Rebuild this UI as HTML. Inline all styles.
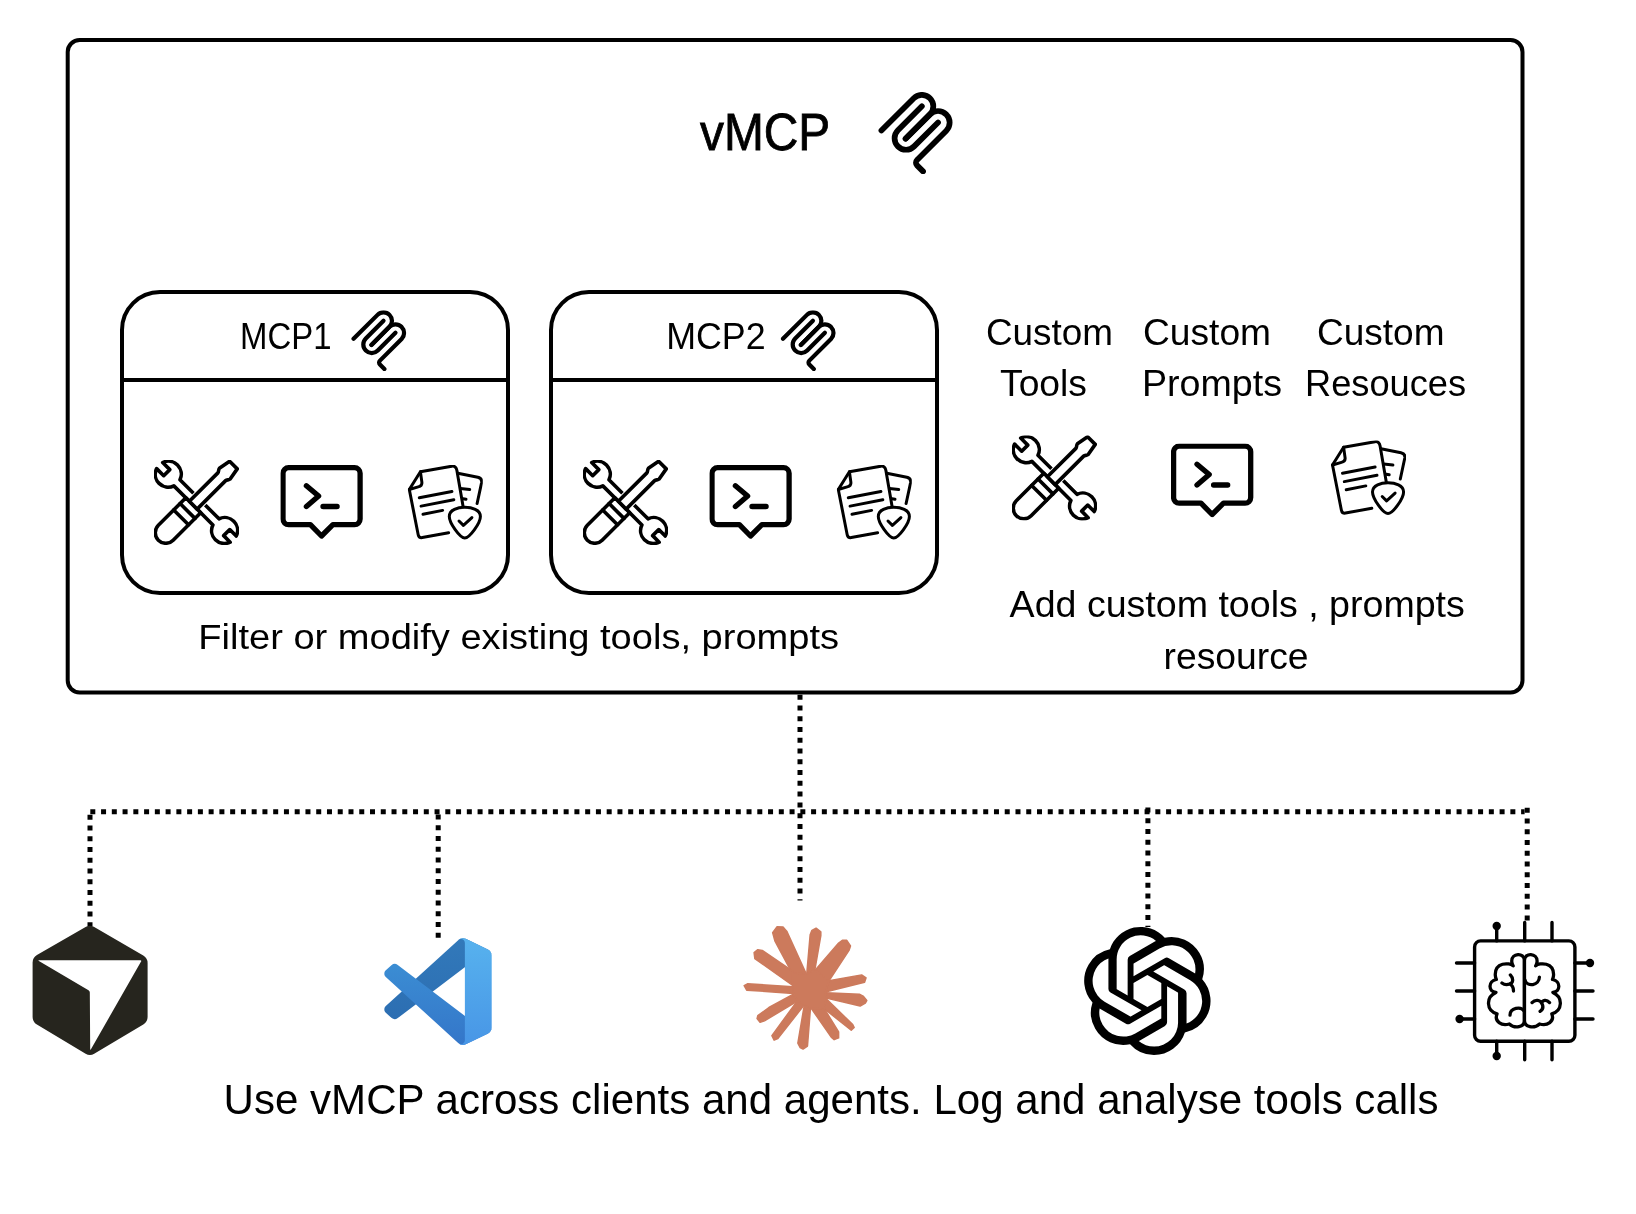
<!DOCTYPE html>
<html><head><meta charset="utf-8">
<style>
html,body{margin:0;padding:0;background:#fff;width:1636px;height:1214px;overflow:hidden}
svg{display:block;will-change:transform}
text{font-family:"Liberation Sans",sans-serif;fill:#000}
</style></head>
<body>
<svg width="1636" height="1214" viewBox="0 0 1636 1214">
<defs>
  <symbol id="mcp" viewBox="19 17 155 172">
    <g fill="none" stroke="#000" stroke-width="12" stroke-linecap="round">
      <path d="M25 97.8528L92.8823 29.9706C102.255 20.598 117.451 20.598 126.823 29.9706V29.9706C136.196 39.3431 136.196 54.5391 126.823 63.9117L75.5581 115.177"/>
      <path d="M76.2653 114.47L126.823 63.9117C136.196 54.5391 151.392 54.5391 160.765 63.9117L161.118 64.2652C170.491 73.6378 170.491 88.8338 161.118 98.2063L99.7248 159.6C96.6006 162.724 96.6006 167.789 99.7248 170.913L112.331 183.52"/>
      <path d="M109.853 46.9411L59.6482 97.1457C50.2757 106.518 50.2757 121.714 59.6482 131.087V131.087C69.0208 140.459 84.2168 140.459 93.5894 131.087L143.794 80.8822"/>
    </g>
  </symbol>
  <symbol id="tools" viewBox="0 0 85 85">
    <g transform="translate(42.3 42.2) rotate(45)" stroke="#000" stroke-width="3.6" stroke-linejoin="round" stroke-linecap="round" fill="#fff">
      <path d="M-27.4 -4.3 L27.8 -4.3 A12.9 12.9 0 0 1 52.2 -4.3 L43 -4.3 L43 4.3 L52.2 4.3 A12.9 12.9 0 0 1 27.8 4.3 L-27.4 4.3 A12.9 12.9 0 0 1 -51.8 4.3 L-41.8 4.3 L-41.8 -4.3 L-51.8 -4.3 A12.9 12.9 0 0 1 -27.4 -4.3 Z"/>
      <path d="M-10.5 4.3 L10.5 4.3 L10.5 43.2 A10.5 10.5 0 0 1 -10.5 43.2 Z"/>
      <path fill="none" d="M-10.5 12.4 L10.5 12.4 M-10.5 21.5 L10.5 21.5"/>
      <path fill="none" stroke="#fff" stroke-width="5.8" stroke-linecap="butt" d="M-5.5 -0.5 L-5.5 -36 C-5.5 -37.6 -7.6 -38.6 -7.6 -40.3 L-5.4 -52.5 L5.4 -52.5 L7.6 -40.3 C7.6 -38.6 5.5 -37.6 5.5 -36 L5.5 -0.5"/>
      <path d="M-5.5 4.3 L-5.5 -36 C-5.5 -37.6 -7.6 -38.6 -7.6 -40.3 L-5.4 -52.5 L5.4 -52.5 L7.6 -40.3 C7.6 -38.6 5.5 -37.6 5.5 -36 L5.5 4.3 Z"/>
    </g>
  </symbol>
  <symbol id="prompt" viewBox="0 0 83 74">
    <g fill="none" stroke="#000" stroke-width="5.3" stroke-linecap="round" stroke-linejoin="round">
      <path d="M8.2 2.7 H74.1 A5.6 5.6 0 0 1 79.7 8.3 V54.1 A5.6 5.6 0 0 1 74.1 59.7 H52.5 L41.1 71 L30 59.7 H8.2 A5.6 5.6 0 0 1 2.6 54.1 V8.3 A5.6 5.6 0 0 1 8.2 2.7 Z"/>
      <path d="M26 20.8 L38.2 31.1 L26 41.5 M42.6 41.5 H56.7"/>
    </g>
  </symbol>
  <symbol id="docs" viewBox="0 0 75 75">
    <g fill="none" stroke="#000" stroke-width="3" stroke-linecap="round" stroke-linejoin="round">
      <path d="M50 8.2 L70 12.2 Q74.5 13.2 73.8 17.5 L69.3 38.5"/>
      <path d="M52.6 23.4 L61.9 24.5 M55.2 33.7 L58.2 34.3"/>
      <path fill="#fff" stroke="none" d="M12.6 6.7 L44.5 1.1 Q48.3 0.6 49 5 L55.2 41.1 L40.8 67.8 L14.5 72.6 Q11 73.2 10.4 69.7 L1.5 24.5 Z"/>
      <path d="M40.8 67.8 L14.5 72.6 Q11 73.2 10.4 69.7 L1.5 24.5 L12.6 6.7 L44 1.2 C47 0.7 48.6 2.5 49.1 5.5 L55.2 41.1"/>
      <path d="M12.6 6.7 L14.1 17.4 Q14.5 21 10.4 21.9 L1.5 24.5"/>
      <path d="M11.5 32.8 L44.1 26.5 M13.3 41.1 L46 34.8 M15.2 49.3 L34.8 45.4"/>
      <path fill="#fff" d="M41.5 51.5 C41.5 44.5 50 42.3 57 42.3 C64 42.3 72.6 44.5 72.6 51.5 C72.6 58 62 73 57 73 C52 73 41.5 58 41.5 51.5 Z"/>
      <path d="M51.2 56 L55.6 60.4 L64.1 52.6"/>
    </g>
  </symbol>
  <linearGradient id="vsA" x1="0" y1="0" x2="0" y2="1"><stop offset="0" stop-color="#3279ba"/><stop offset="1" stop-color="#2c6eb2"/></linearGradient>
  <linearGradient id="vsB" x1="0" y1="0" x2="0" y2="1"><stop offset="0" stop-color="#3b8dd3"/><stop offset="1" stop-color="#3476c9"/></linearGradient>
  <linearGradient id="vsC" x1="0" y1="0" x2="0" y2="1"><stop offset="0" stop-color="#57b2ee"/><stop offset="1" stop-color="#4896e6"/></linearGradient>
</defs>

<!-- outer box -->
<rect x="67.7" y="40" width="1454.8" height="652.5" rx="12" ry="12" fill="none" stroke="#000" stroke-width="4"/>

<!-- title -->
<text x="700" y="149.8" font-size="50.9" stroke="#000" stroke-width="0.8" textLength="130.3" lengthAdjust="spacingAndGlyphs">vMCP</text>
<use href="#mcp" x="878" y="92" width="75" height="82"/>

<!-- MCP1 box -->
<rect x="122" y="292" width="386" height="301" rx="38" ry="38" fill="none" stroke="#000" stroke-width="4"/>
<line x1="122" y1="380" x2="508" y2="380" stroke="#000" stroke-width="4"/>
<text x="240" y="349" font-size="36.8" textLength="91.5" lengthAdjust="spacingAndGlyphs">MCP1</text>
<use href="#mcp" x="351" y="310.3" width="55.6" height="60.7"/>
<use href="#tools" x="154" y="460" width="85" height="85"/>
<use href="#prompt" x="280.4" y="465" width="83" height="74"/>
<use href="#docs" x="407.8" y="465" width="75" height="75"/>

<!-- MCP2 box -->
<rect x="551" y="292" width="386" height="301" rx="38" ry="38" fill="none" stroke="#000" stroke-width="4"/>
<line x1="551" y1="380" x2="937" y2="380" stroke="#000" stroke-width="4"/>
<text x="666.2" y="349" font-size="36.8" textLength="99.4" lengthAdjust="spacingAndGlyphs">MCP2</text>
<use href="#mcp" x="780.4" y="310.3" width="55.6" height="60.7"/>
<use href="#tools" x="583" y="460" width="85" height="85"/>
<use href="#prompt" x="709.4" y="465" width="83" height="74"/>
<use href="#docs" x="836.8" y="465" width="75" height="75"/>

<!-- custom -->
<text x="986" y="344.5" font-size="36" textLength="127" lengthAdjust="spacingAndGlyphs">Custom</text>
<text x="1000" y="396" font-size="36" textLength="87" lengthAdjust="spacingAndGlyphs">Tools</text>
<text x="1143" y="344.5" font-size="36" textLength="128" lengthAdjust="spacingAndGlyphs">Custom</text>
<text x="1142" y="396" font-size="36" textLength="140" lengthAdjust="spacingAndGlyphs">Prompts</text>
<text x="1317" y="344.5" font-size="36" textLength="127.5" lengthAdjust="spacingAndGlyphs">Custom</text>
<text x="1305" y="396" font-size="36" textLength="161.1" lengthAdjust="spacingAndGlyphs">Resouces</text>
<use href="#tools" x="1012" y="435.5" width="85" height="85"/>
<use href="#prompt" x="1171" y="443.5" width="83" height="74"/>
<use href="#docs" x="1331" y="440.5" width="75" height="75"/>

<text x="198.3" y="648.8" font-size="35.5" textLength="640.7" lengthAdjust="spacingAndGlyphs">Filter or modify existing tools, prompts</text>
<text x="1009.6" y="616.8" font-size="36" textLength="455.2" lengthAdjust="spacingAndGlyphs">Add custom tools , prompts</text>
<text x="1163.6" y="668.6" font-size="36" textLength="145" lengthAdjust="spacingAndGlyphs">resource</text>

<!-- dotted connectors -->
<g stroke="#000" stroke-width="5" stroke-dasharray="5 5.758" fill="none">
  <line x1="800" y1="694.8" x2="800" y2="900.5"/>
  <line x1="90.3" y1="811.8" x2="1524.6" y2="811.8"/>
  <line x1="90" y1="814.7" x2="90" y2="926"/>
  <line x1="438.2" y1="814.4" x2="438.2" y2="938"/>
  <line x1="1147.9" y1="807.5" x2="1147.9" y2="927"/>
  <line x1="1527.2" y1="807.8" x2="1527.2" y2="920.5"/>
</g>


<!-- cursor cube -->
<g>
  <path d="M85.57 927.10 Q89.90 924.60 94.23 927.10 L143.27 955.50 Q147.60 958.00 147.60 963.00 L147.60 1017.00 Q147.60 1022.00 143.30 1024.55 L94.20 1053.65 Q89.90 1056.20 85.61 1053.64 L36.89 1024.56 Q32.60 1022.00 32.60 1017.00 L32.60 962.60 Q32.60 957.60 36.93 955.10 Z" fill="#26251e"/>
  <path d="M38.89 961.06 Q37.60 960.30 39.10 960.30 L140.30 960.30 Q141.80 960.30 141.06 961.60 L90.94 1049.20 Q90.20 1050.50 90.19 1049.00 L89.81 992.50 Q89.80 991.00 88.51 990.24 Z" fill="#fff"/>
</g>
<!-- vscode -->
<g transform="translate(384.4 937.9) scale(1.073)">
  <path d="M96.4614 10.7962L75.8569 0.875542C73.4719 -0.272773 70.6217 0.211611 68.75 2.08333L1.29858 63.5832C-0.515693 65.2373 -0.513607 68.0937 1.30308 69.7452L6.81272 74.754C8.29793 76.1042 10.5347 76.2036 12.1338 74.9905L93.3609 13.3699C96.086 11.3026 100 13.2462 100 16.6667V16.4275C100 14.0265 98.6246 11.8378 96.4614 10.7962Z" fill="url(#vsA)"/>
  <path d="M96.4614 89.2038L75.8569 99.1245C73.4719 100.273 70.6217 99.7884 68.75 97.9167L1.29858 36.4169C-0.515693 34.7627 -0.513607 31.9063 1.30308 30.2548L6.81272 25.246C8.29793 23.8958 10.5347 23.7964 12.1338 25.0095L93.3609 86.6301C96.086 88.6974 100 86.7538 100 83.3334V83.5726C100 85.9735 98.6246 88.1622 96.4614 89.2038Z" fill="url(#vsB)"/>
  <path d="M75.8578 99.1263C73.4721 100.274 70.6219 99.7885 68.75 97.9166C71.0564 100.223 75 98.5895 75 95.3278V4.67213C75 1.41039 71.0564 -0.223106 68.75 2.08329C70.6219 0.211402 73.4721 -0.273666 75.8578 0.873633L96.4587 10.7807C98.6234 11.8217 100 14.0112 100 16.4132V83.5871C100 85.9891 98.6234 88.1786 96.4586 89.2196L75.8578 99.1263Z" fill="url(#vsC)"/>
</g>
<!-- claude -->
<g transform="translate(720 900) scale(0.14828)" fill="#cc7a5c" stroke="#cc7a5c" stroke-width="10" stroke-linejoin="round"><polygon points="490,500 370,275 355,220 385,180 425,182 450,210 580,495"/><polygon points="585,500 608,235 620,205 648,190 680,215 680,240 640,470"/><polygon points="640,475 800,290 825,272 855,272 880,310 870,340 735,545"/><polygon points="735,545 955,505 985,525 975,555 710,620"/><polygon points="715,625 940,635 965,648 990,678 980,695 945,715 710,660"/><polygon points="715,665 895,840 905,860 885,878 705,735"/><polygon points="615,730 750,925 770,942 800,930 800,890 705,735"/><polygon points="570,700 525,965 540,995 560,1005 590,985 610,730"/><polygon points="525,675 350,915 365,945 390,935 570,705"/><polygon points="495,635 330,725 255,780 250,800 270,825 300,815 525,680"/><polygon points="490,585 185,565 163,578 180,608 495,630"/><polygon points="490,480 285,340 255,335 230,355 235,395 495,580"/><polygon points="490,490 585,500 640,470 735,545 710,620 715,665 705,735 610,730 570,705 525,680 495,630 490,585"/></g>
<!-- openai -->
<g transform="translate(1083.3 926.9) scale(5.3375)"><path d="M22.2819 9.8211a5.9847 5.9847 0 0 0-.5157-4.9108 6.0462 6.0462 0 0 0-6.5098-2.9A6.0651 6.0651 0 0 0 4.9807 4.1818a5.9847 5.9847 0 0 0-3.9977 2.9 6.0462 6.0462 0 0 0 .7427 7.0966 5.98 5.98 0 0 0 .511 4.9107 6.051 6.051 0 0 0 6.5146 2.9001A5.9847 5.9847 0 0 0 13.2599 24a6.0557 6.0557 0 0 0 5.7718-4.2058 5.9894 5.9894 0 0 0 3.9977-2.9001 6.0557 6.0557 0 0 0-.7475-7.0729zm-9.022 12.6081a4.4755 4.4755 0 0 1-2.8764-1.0408l.1419-.0804 4.7783-2.7582a.7948.7948 0 0 0 .3927-.6813v-6.7369l2.02 1.1686a.071.071 0 0 1 .038.052v5.5826a4.504 4.504 0 0 1-4.4945 4.4944zm-9.6607-4.1254a4.4708 4.4708 0 0 1-.5346-3.0137l.142.0852 4.783 2.7582a.7712.7712 0 0 0 .7806 0l5.8428-3.3685v2.3324a.0804.0804 0 0 1-.0332.0615L9.74 19.9502a4.4992 4.4992 0 0 1-6.1408-1.6464zM2.3408 7.8956a4.485 4.485 0 0 1 2.3655-1.9728V11.6a.7664.7664 0 0 0 .3879.6765l5.8144 3.3543-2.0201 1.1685a.0757.0757 0 0 1-.071 0l-4.8303-2.7865A4.504 4.504 0 0 1 2.3408 7.872zm16.5963 3.8558L13.1038 8.364 15.1192 7.2a.0757.0757 0 0 1 .071 0l4.8303 2.7913a4.4944 4.4944 0 0 1-.6765 8.1042v-5.6772a.79.79 0 0 0-.407-.667zm2.0107-3.0231l-.142-.0852-4.7735-2.7818a.7759.7759 0 0 0-.7854 0L9.409 9.2297V6.8974a.0662.0662 0 0 1 .0284-.0615l4.8303-2.7866a4.4992 4.4992 0 0 1 6.6802 4.66zM8.3065 12.863l-2.02-1.1638a.0804.0804 0 0 1-.038-.0567V6.0742a4.4992 4.4992 0 0 1 7.3757-3.4537l-.142.0805L8.704 5.459a.7948.7948 0 0 0-.3927.6813zm1.0976-2.3654l2.602-1.4998 2.6069 1.4998v2.9994l-2.5974 1.4997-2.6067-1.4997Z" fill="#000"/></g>
<!-- brain chip -->
<g fill="none" stroke="#000" stroke-width="3.4" stroke-linecap="round" stroke-linejoin="round">
  <rect x="1474.6" y="940.9" width="100.3" height="100.3" rx="6" ry="6"/>
  <path d="M1496.7 940.9 V926 M1524.7 940.9 V922.4 M1552 940.9 V922.4 M1496.7 1041.2 V1056 M1524.7 1041.2 V1059.7 M1552 1041.2 V1059.7"/>
  <path d="M1474.6 963 H1456.5 M1474.6 991 H1456.5 M1474.6 1019 H1459.6 M1574.9 963 H1590 M1574.9 991 H1593 M1574.9 1019 H1593"/>
</g>
<g fill="#000"><circle cx="1496.7" cy="926" r="4.2"/><circle cx="1496.7" cy="1056" r="4.2"/><circle cx="1459.6" cy="1019" r="4.2"/><circle cx="1590" cy="963" r="4.2"/></g>

<!-- brain -->
<g transform="translate(1482 948) scale(0.07)" fill="none" stroke="#000" stroke-width="47" stroke-linecap="round" stroke-linejoin="round">
  <path id="lhemi" d="M605 175 C605 60 420 70 425 190 Q428 230 445 255 C390 205 180 200 190 390 Q192 420 205 450 C85 470 85 625 200 635 C50 700 60 900 215 940 C170 1050 280 1120 390 1085 C470 1160 605 1130 605 1040 Z"/>
  <use href="#lhemi" transform="translate(1212 0) scale(-1 1)"/>
  <path d="M405 385 C455 440 445 500 395 515 C350 530 310 520 285 500 M395 515 C440 535 450 580 450 615 M400 960 C400 850 560 830 600 900"/>
  <path d="M820 415 C820 540 640 560 615 460 M715 780 C760 730 830 740 855 790 M965 780 C920 730 865 745 850 790 M855 790 C880 840 870 880 830 905"/>
</g>
<text x="223.6" y="1114" font-size="42.6" textLength="1214.9" lengthAdjust="spacingAndGlyphs">Use vMCP across clients and agents. Log and analyse tools calls</text>
</svg>
</body></html>
